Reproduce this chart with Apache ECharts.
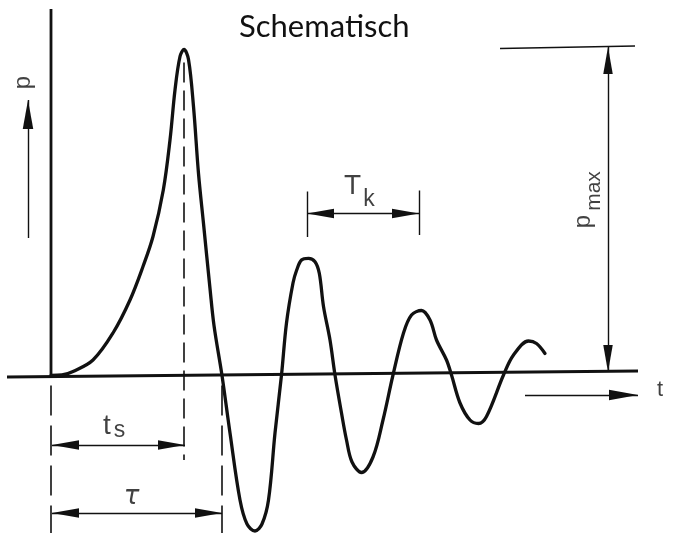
<!DOCTYPE html>
<html>
<head>
<meta charset="utf-8">
<script src="https://cdn.jsdelivr.net/npm/echarts@6/dist/echarts.min.js"></script>
<style>
  html, body { margin: 0; padding: 0; background: #ffffff; }
  #chart { width: 673px; height: 533px; }
</style>
</head>
<body>
<div id="chart"></div>
<script>
// Pressure trace p(t) of a blast wave with ringing (schematic units)
const pressureCurve = [
  [0, 0], [1.1, 0.05], [2.2, 0.4], [4.2, 1.55], [6.2, 4.25], [7.9, 7.55],
  [9.2, 10.9], [10.2, 13.9], [11.23, 18.55], [11.9, 23.55], [12.4, 28.55],
  [12.9, 31.9], [13.3, 32.6], [13.75, 31.6], [14.25, 26.9], [14.75, 20.2],
  [15.25, 15.2], [15.9, 8.7], [16.3, 5.0], [17.1, 0], [17.9, -5.75],
  [18.9, -12.45], [19.6, -14.85], [20.4, -15.55], [21.1, -14.85], [21.75, -12.45],
  [22.4, -5.75], [23.05, 0.05], [23.55, 5.25], [24.2, 9.25], [24.57, 10.55],
  [25.05, 11.55], [25.75, 11.72], [26.4, 11.38], [26.83, 10.22], [27.25, 6.9],
  [27.9, 3.55], [28.4, 0.05],
  [29.05, -3.75], [29.55, -6.45], [30.1, -8.65], [31.05, -9.7], [32.2, -8.15],
  [33.2, -4.45], [34.2, 0.05], [35.25, 4.25], [36.05, 6.05], [37.05, 6.5],
  [37.9, 5.55], [38.55, 3.55], [39.55, 1.55], [40.05, 0.05], [40.9, -2.75],
  [41.9, -4.45], [42.75, -4.8], [43.55, -4.1], [45.25, 0.05], [46.25, 2.05],
  [47.75, 3.45], [48.55, 3.2], [49.4, 2.2]
];

// Axes of the sketch
const timeAxisLine = [[-4.4, -0.15], [58.7, 0.45]];
const pressureAxisLine = [[0, 0], [0, 36.65]];

// Characteristic quantities
const tsTime = 13.3;     // time to peak t_s
const tauTime = 17.1;    // positive phase duration tau
const pMax = 32.6;       // peak pressure
const tkStart = 25.6;    // one ringing period T_k
const tkEnd = 36.8;

// Text annotations: [t, p, text, role]
const annotations = [
  [5.6, -5.05, 't', 'main'],
  [6.85, -5.55, 's', 'sub'],
  [8.05, -12.2, 'τ', 'greek'],
  [30.15, 18.95, 'T', 'main'],
  [31.8, 17.55, 'k', 'sub'],
  [-2.8, 29.3, 'p', 'vertical'],
  [53.25, 15.4, 'p', 'vertical'],
  [54.3, 18.45, 'max', 'verticalSub'],
  [60.9, -1.45, 't', 'axis']
];

const ink = '#111111';
const font = 'Liberation Sans';
const labelStyles = {
  main: { fontSize: 28 },
  sub: { fontSize: 23 },
  greek: { fontSize: 26, fontStyle: 'italic', fontFamily: 'DejaVu Sans' },
  vertical: { fontSize: 24, rotate: 90 },
  verticalSub: { fontSize: 21, rotate: 90 },
  axis: { fontSize: 22 }
};

// Slim triangular arrowhead (length x width) whose tip sits at the symbol centre.
// The symbol box is square, so two bare moveTo points widen it to 2*length.
function arrowHead(length, width) {
  const s = 2 * length, c = length, h = width / 2;
  return {
    symbol: 'path://M' + c + ',' + c + ' L' + (c + h) + ',' + s + ' L' + (c - h) + ',' + s +
            ' Z M0,0 M' + s + ',0',
    size: s
  };
}
const dimHead = arrowHead(27, 9.5);
const dirHead = arrowHead(29, 10.5);

const chart = echarts.init(document.getElementById('chart'), null, { renderer: 'canvas' });

chart.setOption({
  animation: false,
  backgroundColor: '#ffffff',
  title: {
    text: 'Schematisch',
    left: 234,
    top: 6,
    textStyle: { fontFamily: 'Lato', fontSize: 31, fontWeight: 'normal', color: ink }
  },
  grid: { left: 0, right: 0, top: 0, bottom: 0 },
  xAxis: { type: 'value', min: -5.1, max: 62.2, show: false },
  yAxis: { type: 'value', min: -15.75, max: 37.55, show: false },
  series: [
    {
      name: 'time axis', type: 'line', data: timeAxisLine, showSymbol: false, clip: false,
      lineStyle: { color: ink, width: 2.8 }, silent: true
    },
    {
      name: 'pressure axis', type: 'line', data: pressureAxisLine, showSymbol: false, clip: false,
      lineStyle: { color: ink, width: 2.8 }, silent: true
    },
    {
      name: 'p(t)', type: 'line', data: pressureCurve, smooth: 0.35, showSymbol: false, clip: false,
      lineStyle: { color: ink, width: 3.3, cap: 'round', join: 'round' }, silent: true
    },
    {
      // dashed marker at the time of peak pressure
      name: 'ts marker', type: 'lines', coordinateSystem: 'cartesian2d', silent: true,
      lineStyle: { color: ink, width: 1.6, type: [20, 8], opacity: 1 },
      data: [{ coords: [[tsTime, 31.3], [tsTime, -8.45]] }]
    },
    {
      name: 'start and tau markers', type: 'lines', coordinateSystem: 'cartesian2d', silent: true,
      lineStyle: { color: ink, width: 1.6, type: [30, 10], opacity: 1 },
      data: [
        { coords: [[0, -1.0], [0, -15.75]] },
        { coords: [[tauTime, -1.0], [tauTime, -15.75]] }
      ]
    },
    {
      name: 'reference lines', type: 'lines', coordinateSystem: 'cartesian2d', silent: true,
      lineStyle: { color: ink, width: 1.4, opacity: 1 },
      data: [
        { coords: [[44.9, pMax + 0.1], [58.4, pMax + 0.35]] },
        { coords: [[tkStart, 18.4], [tkStart, 13.85]] },
        { coords: [[tkEnd, 18.5], [tkEnd, 14.05]] }
      ]
    },
    {
      name: 'dimension arrows', type: 'lines', coordinateSystem: 'cartesian2d', silent: true,
      symbol: [dimHead.symbol, dimHead.symbol], symbolSize: dimHead.size,
      lineStyle: { color: ink, width: 1.4, opacity: 1 },
      itemStyle: { color: ink },
      data: [
        { coords: [[0.1, -6.95], [tsTime + 0.1, -6.95]] },
        { coords: [[0.1, -13.75], [tauTime, -13.75]] },
        { coords: [[tkStart, 16.2], [tkEnd, 16.2]] },
        { coords: [[55.7, pMax + 0.25], [55.7, 0.35]] }
      ]
    },
    {
      name: 'direction arrows', type: 'lines', coordinateSystem: 'cartesian2d', silent: true,
      symbol: ['none', dirHead.symbol], symbolSize: dirHead.size,
      lineStyle: { color: ink, width: 1.4, opacity: 1 },
      itemStyle: { color: ink },
      data: [
        { coords: [[-2.3, 13.75], [-2.3, 27.55]] },
        { coords: [[47.4, -1.95], [58.7, -1.95]] }
      ]
    },
    {
      name: 'annotations', type: 'scatter', symbolSize: 0, silent: true,
      data: annotations.map(([t, p, text, role]) => ({
        value: [t, p],
        label: Object.assign({
          show: true, position: 'inside', formatter: text,
          color: ink, fontFamily: font, fontWeight: 'normal'
        }, labelStyles[role])
      }))
    }
  ]
});
</script>
</body>
</html>
